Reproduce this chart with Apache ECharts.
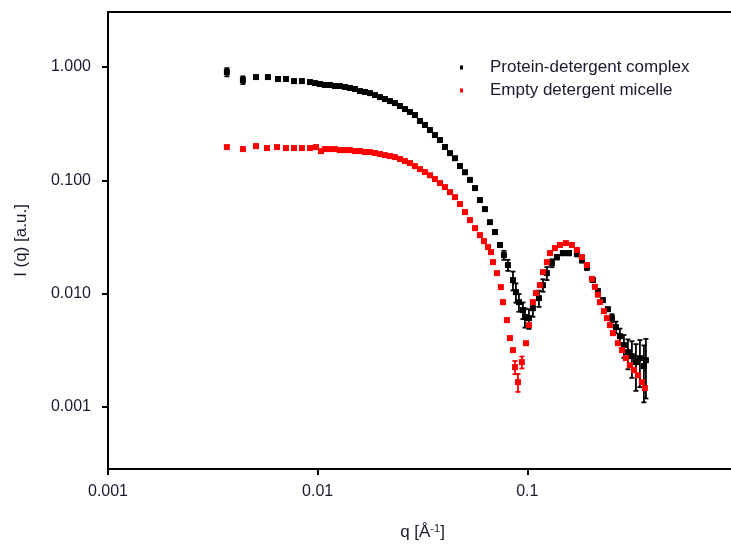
<!DOCTYPE html>
<html>
<head>
<meta charset="utf-8">
<script src="https://cdn.jsdelivr.net/npm/echarts@6/dist/echarts.min.js"></script>
<style>
html,body{margin:0;padding:0;background:#fff;}
#chart{width:731px;height:548px;}
</style>
</head>
<body>
<div id="chart"></div>
<script>
// ---- Data ----
const seriesNames = ['Protein-detergent complex', 'Empty detergent micelle'];

const qBlack = [0.00369,0.00440,0.00508,0.00579,0.00647,0.00706,0.00771,0.00841,0.00919,0.00971,
  0.01026,0.01083,0.01145,0.01209,0.01277,0.01350,0.01426,0.01506,0.01591,0.01681,
  0.01776,0.01876,0.01982,0.02094,0.02212,0.02336,0.02469,0.02608,0.02755,0.02911,
  0.03075,0.03249,0.03432,0.03626,0.03831,0.04047,0.04276,0.04517,0.04772,0.05042,
  0.05326,0.05627,0.05943,0.06279,0.06634,0.07008,0.07404,0.07734,0.0808,0.0854,
  0.0882,0.0912,0.0953,0.0974,0.1018,0.1063,0.1136,0.1187,0.1240,0.1310,
  0.1384,0.1478,0.1579,0.1724,0.1822,0.1924,0.2055,0.2171,0.2293,0.2423,
  0.2532,0.2646,0.2764,0.2888,0.3018,0.3153,0.3296,0.3443,0.3597,0.3678];
const iBlack = [0.903,0.768,0.816,0.816,0.784,0.784,0.752,0.752,0.737,0.722,
  0.708,0.694,0.694,0.680,0.680,0.666,0.653,0.640,0.614,0.602,
  0.589,0.566,0.543,0.522,0.501,0.481,0.453,0.426,0.401,0.377,
  0.334,0.308,0.278,0.251,0.227,0.197,0.174,0.157,0.134,0.118,
  0.101,0.0855,0.0670,0.0558,0.0428,0.0350,0.0269,0.0219,0.0179,0.01318,
  0.01033,0.00843,0.00717,0.00622,0.00609,0.00746,0.00915,0.01191,0.01520,0.01863,
  0.02104,0.02282,0.02282,0.02236,0.0198,0.01717,0.0132,0.01054,0.00878,0.00731,
  0.00609,0.00507,0.00422,0.00352,0.00305,0.00281,0.00249,0.0027,0.0023,0.00259];
const errBlack = [0.075,0.06,0,0,0,0,0,0,0,0,
  0,0,0,0,0,0,0,0,0,0,
  0,0,0,0,0,0,0,0,0,0,
  0,0,0,0,0,0,0,0,0,0,
  0,0,0,0,0,0,0,0.002,0.002,0.0025,
  0.002,0.0015,0.0012,0.0012,0.0012,0.0012,0.0015,0.0015,0.002,0.0015,
  0.001,0.001,0.001,0.001,0.001,0.001,0,0,0,0,
  0.0005,0.0006,0.0007,0.0008,0.0009,0.0010,0.0011,0.0012,0.0012,0.0014];

const qRed = [0.00369,0.00440,0.00508,0.00573,0.00640,0.00706,0.00771,0.00841,0.00919,0.00982,
  0.01037,0.01083,0.01145,0.01209,0.01277,0.01350,0.01426,0.01506,0.01591,0.01681,
  0.01776,0.01876,0.01982,0.02094,0.02212,0.02336,0.02469,0.02608,0.02755,0.02911,
  0.03075,0.03249,0.03432,0.03626,0.03831,0.04047,0.04276,0.04517,0.04772,0.05042,
  0.05326,0.05627,0.05943,0.0621,0.0649,0.0671,0.0686,0.0716,0.0748,0.0765,
  0.0799,0.0826,0.0854,0.0873,0.0902,0.0942,0.0985,0.1018,0.1063,0.1099,
  0.1148,0.1187,0.1240,0.1282,0.1354,0.1430,0.1528,0.1632,0.1724,0.1822,
  0.1924,0.2033,0.2100,0.2171,0.2219,0.2319,0.2397,0.2477,0.2560,0.2704,
  0.2826,0.2953,0.3085,0.3224,0.3369,0.3520,0.3637];
const iRed = [0.1967,0.1889,0.2008,0.1928,0.1967,0.1928,0.1928,0.1928,0.1928,0.1967,
  0.1814,0.1889,0.1889,0.1889,0.185,0.185,0.185,0.1814,0.1814,0.1778,
  0.1778,0.1742,0.1707,0.167,0.1639,0.1606,0.1542,0.148,0.1421,0.1337,
  0.1258,0.1184,0.111,0.1027,0.0947,0.0873,0.0788,0.0712,0.0618,0.0525,
  0.0446,0.0379,0.0329,0.0291,0.0258,0.0233,0.0190,0.0152,0.01144,0.00843,
  0.00585,0.00406,0.00318,0.00225,0.00166,0.00249,0.00366,0.00528,0.00843,0.01012,
  0.01191,0.0155,0.0190,0.02282,0.02527,0.0269,0.02797,0.0269,0.0243,0.02104,
  0.0179,0.0135,0.0115,0.0098,0.00843,0.00702,0.00609,0.00528,0.00449,0.00366,
  0.00318,0.0027,0.00234,0.00212,0.00191,0.00166,0.00147];
const errRed = [0,0,0,0,0,0,0,0,0,0,
  0,0,0,0,0,0,0,0,0,0,
  0,0,0,0,0,0,0,0,0,0,
  0,0,0,0,0,0,0,0,0,0,
  0,0,0,0,0,0,0,0,0,0,
  0,0,0,0.0003,0.0003,0.0003,0,0,0,0,
  0,0,0,0,0,0,0,0,0,0,
  0,0,0,0,0,0,0,0,0,0,
  0,0,0,0,0,0,0];

const xTickValues = [0.001, 0.01, 0.1, 1];
const xTickLabels = ['0.001', '0.01', '0.1', '1'];
const yTickValues = [0.001, 0.01, 0.1, 1];
const yTickLabels = ['0.001', '0.010', '0.100', '1.000'];
const xRange = [0.001, 1];
const yRange = [0.000284, 3.06];

// ---- Build series data ----
function points(q, I) { return q.map((v, k) => [v, I[k]]); }
function bars(q, I, e) {
  const out = [];
  q.forEach((v, k) => { if (e[k] > 0) out.push([v, Math.max(I[k] - e[k], 1e-6), I[k] + e[k]]); });
  return out;
}
function labelFor(values, labels) {
  return function (v) {
    for (let k = 0; k < values.length; k++) {
      if (Math.abs(Math.log10(v) - Math.log10(values[k])) < 1e-6) return labels[k];
    }
    return '';
  };
}
function errorBarSeries(data, color) {
  return {
    type: 'custom',
    silent: true,
    z: 3,
    data: data,
    encode: { x: 0, y: [1, 2] },
    renderItem: function (params, api) {
      const top = api.coord([api.value(0), api.value(2)]);
      const bot = api.coord([api.value(0), api.value(1)]);
      const w = 2.5;
      const st = { stroke: color, lineWidth: 1.8 };
      return {
        type: 'group',
        children: [
          { type: 'line', shape: { x1: top[0], y1: top[1], x2: bot[0], y2: bot[1] }, style: st },
          { type: 'line', shape: { x1: top[0] - w, y1: top[1], x2: top[0] + w, y2: top[1] }, style: st },
          { type: 'line', shape: { x1: bot[0] - w, y1: bot[1], x2: bot[0] + w, y2: bot[1] }, style: st }
        ]
      };
    }
  };
}

const FONT = '"Liberation Sans", Arial, sans-serif';
const chart = echarts.init(document.getElementById('chart'), null, { renderer: 'canvas' });

chart.setOption({
  animation: false,
  backgroundColor: '#ffffff',
  grid: {
    left: 108, top: 12, right: -6, bottom: 79,
    containLabel: false,
    outerBoundsMode: 'none',
    show: true, borderColor: '#000', borderWidth: 2, backgroundColor: 'transparent'
  },
  legend: {
    orient: 'vertical',
    left: 455, top: 54,
    itemGap: 6,
    itemWidth: 3, itemHeight: 4,
    icon: 'rect',
    data: seriesNames,
    textStyle: { fontFamily: FONT, fontSize: 17, color: '#1a1a2e', padding: [0, 0, 0, 22] }
  },
  xAxis: {
    type: 'log',
    logBase: 10,
    min: xRange[0], max: xRange[1],
    name: 'q [Å{sup|-1}]',
    nameLocation: 'middle',
    nameGap: 54,
    nameTextStyle: {
      fontFamily: FONT, fontSize: 17, color: '#1a1a2e',
      rich: { sup: { fontFamily: FONT, fontSize: 11, verticalAlign: 'top', padding: [0, 0, 8, 0], color: '#1a1a2e' } }
    },
    axisLine: { show: true, onZero: false, lineStyle: { color: '#000', width: 2 } },
    axisTick: { show: true, inside: false, length: 6, lineStyle: { color: '#000', width: 2 }, customValues: xTickValues },
    minorTick: { show: false },
    splitLine: { show: false },
    axisLabel: {
      customValues: xTickValues,
      formatter: labelFor(xTickValues, xTickLabels),
      margin: 15, fontFamily: FONT, fontSize: 16, color: '#1a1a2e',
      showMinLabel: true, showMaxLabel: true
    }
  },
  yAxis: {
    type: 'log',
    logBase: 10,
    min: yRange[0], max: yRange[1],
    name: 'I (q) [a.u.]',
    nameLocation: 'middle',
    nameGap: 78,
    nameRotate: 90,
    nameTextStyle: { fontFamily: FONT, fontSize: 17, color: '#1a1a2e' },
    axisLine: { show: true, onZero: false, lineStyle: { color: '#000', width: 2 } },
    axisTick: { show: true, inside: false, length: 6, lineStyle: { color: '#000', width: 2 }, customValues: yTickValues },
    minorTick: { show: false },
    splitLine: { show: false },
    axisLabel: {
      customValues: yTickValues,
      formatter: labelFor(yTickValues, yTickLabels),
      margin: 17, fontFamily: FONT, fontSize: 16, color: '#1a1a2e'
    }
  },
  series: [
    errorBarSeries(bars(qBlack, iBlack, errBlack), '#000000'),
    {
      name: seriesNames[0], type: 'scatter', z: 4,
      symbol: 'rect', symbolSize: 6,
      itemStyle: { color: '#000000', opacity: 1 },
      data: points(qBlack, iBlack)
    },
    errorBarSeries(bars(qRed, iRed, errRed), '#ff0000'),
    {
      name: seriesNames[1], type: 'scatter', z: 5,
      symbol: 'rect', symbolSize: 6,
      itemStyle: { color: '#ff0000', opacity: 1 },
      data: points(qRed, iRed)
    }
  ]
});
</script>
</body>
</html>
